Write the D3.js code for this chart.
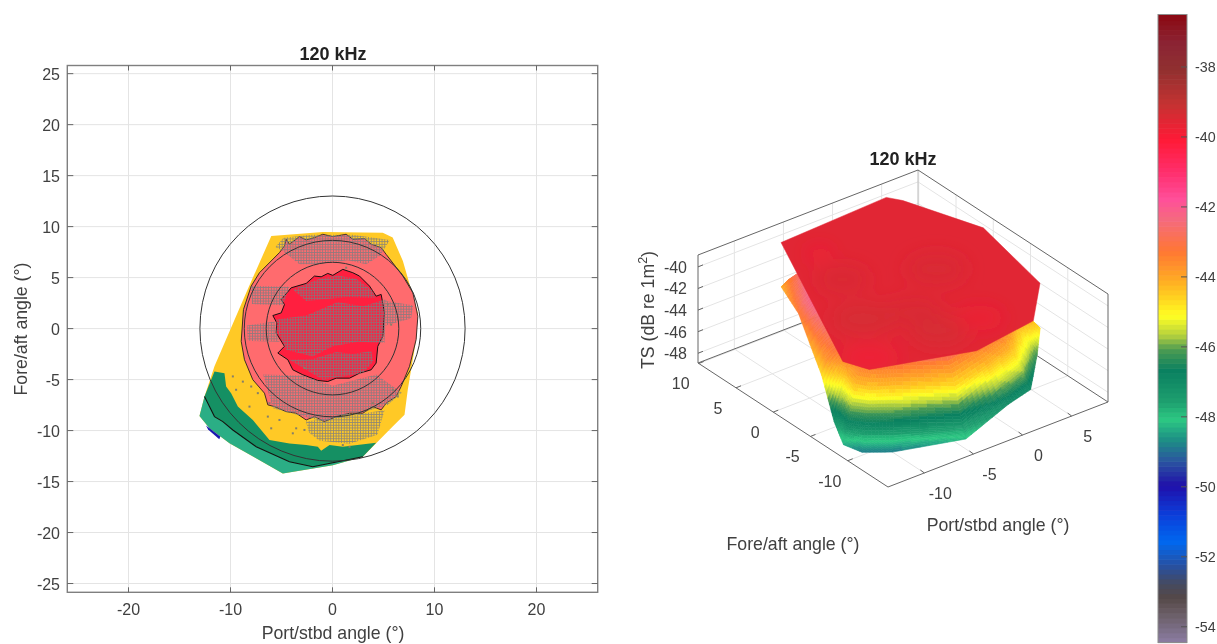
<!DOCTYPE html>
<html><head><meta charset="utf-8">
<style>html,body{margin:0;background:#fff}svg{display:block;filter:blur(0.3px)}text{font-family:"Liberation Sans",Arial,sans-serif;fill:#404040}</style>
<script src="https://cdn.jsdelivr.net/npm/d3@7/dist/d3.min.js"></script></head>
<body><svg id="c" width="1217" height="644"></svg>
<script>
// ---------- data (degrees / dB) ----------
const title = "120 kHz";
const xTicks2D = [-20,-10,0,10,20];
const yTicks2D = [-25,-20,-15,-10,-5,0,5,10,15,20,25];
const ringRadii = [13,8.65,6.5];
const footprintX = [-6,-0.95,4.93,5.9,6.9,8.37,8.2,7.38,7.06,5.9,2.97,0.03,-4.87,-10.1,-12.06,-13.04,-12.55,-11.57,-8.46];
const footprintY = [9.08,9.48,9.41,8.93,6.63,1.54,-1.08,-6,-8.46,-9.6,-12.57,-13.4,-14.2,-11.25,-9.78,-8.56,-6.66,-3.7,3.51];
const lightGreenX = [-13.04,-12.55,-11.57,-10.75,-9.77,-7.48,-4.22,-1.93,2.97,0.03,-4.87,-10.1,-12.06];
const lightGreenY = [-8.56,-6.66,-8.63,-9.12,-9.94,-11.58,-13.06,-13.55,-12.57,-13.4,-14.2,-11.25,-9.78];
const darkGreenX = [-11.57,-10.59,-10.43,-9.94,-9.28,-7.81,-6.18,-4.22,-2.58,-1.44,-1.11,-0.29,1.01,4.28,2.97,-1.93,-4.22,-7.48,-9.77,-10.75,-11.57,-12.55];
const darkGreenY = [-4.2,-4.37,-5.68,-6.33,-7.65,-8.96,-10.93,-11.26,-11.42,-11.58,-11.98,-11.42,-11.58,-11.19,-12.57,-13.55,-13.06,-11.58,-9.94,-9.12,-8.63,-6.66];
const contourLowX = [2.97,-1.93,-4.22,-7.48,-9.77,-10.75,-11.57,-12.55];
const contourLowY = [-12.57,-13.55,-13.06,-11.58,-9.94,-9.12,-8.63,-6.66];
const blueX = [-12.4,-11,-11.1,-12.2];
const blueY = [-9.5,-10.58,-10.85,-9.9];
const salmonX = [-4.54,-4.22,-3.24,-2.58,-1.77,-0.95,0.03,1.34,1.99,3.14,3.79,4.77,5.26,6.9,7.88,8.37,8.2,7.55,6.73,6.24,5.26,4.77,3.95,2.97,1.67,0.36,-0.78,-1.77,-2.58,-3.56,-4.54,-5.69,-6.34,-6.67,-7.81,-8.63,-8.95,-8.73,-7.97,-7.16,-5.2,-4.71];
const salmonY = [8.76,8.27,9.02,8.69,8.92,9.25,9.02,9.25,8.76,8.82,8.27,7.94,7.28,5.15,3.51,1.21,-1.08,-3.71,-5.68,-6.66,-7.32,-7.97,-7.65,-8.3,-8.3,-8.63,-9.12,-8.63,-8.96,-8.3,-8.14,-7.65,-7.48,-6.33,-5.02,-3.05,-1.25,1.87,4.17,5.48,7.45,8.1];
const redX = [-5.85,-5.03,-4.71,-5.03,-4.05,-2.58,-1.77,-1.11,-0.46,0.03,1.01,1.99,2.65,3.63,4.28,4.77,5.1,4.93,4.44,4.28,3.79,2.65,1.67,0.36,-0.46,-1.44,-2.91,-3.89,-4.38,-5.36,-4.71,-5.52,-5.46];
const redY = [1.28,1.54,2.36,2.85,4,4.43,5.15,5.08,5.41,5.22,5.81,5.48,5.15,4.17,3.18,3.35,1.54,-0.76,-1.74,-3.38,-4.04,-4.37,-4.86,-4.86,-5.19,-5.09,-4.53,-4.04,-3.05,-2.4,-1.74,-0.43,0.56];
const sampledRegionsX = [
 [-5.5,-2.5,0.5,3,5.3,5.1,2.5,0.03,-1.93,-4.54,-5.46],[-3.89,-1.27,0.5,2.32,3.95,4.2,1.5,-2.58],[-4.22,-2,0.36,2,3.79,4,2.97,-0.95],
 [-4.8,-2,2,5.6,5.2,4.61,3.3,1.5,-1.5,-3.24,-4.87,-5.6],[-8,-4.22,-4.87,-7.9],[-8.4,-5.69,-5.2,-8.3],[5.2,7.9,7.7,5.2],
 [-6.8,-2.91,0.03,2,4.28,6.8,5.4,3,-0.95,-5.85],[-2.6,5.1,4.4,1.67,-1.27,-2.3]];
const sampledRegionsY = [
 [0.9,1.3,2.6,2.2,2.9,-1.41,-1.3,-1.74,-2.73,-2.07,-0.1],[3.84,4.9,5.2,4.9,3.7,3,3.1,2.7],[-3.05,-3,-2.3,-2.5,-2.2,-3.2,-4.37,-5.02],
 [8.9,9.2,9.2,8.7,8,7.12,6.3,6.7,6.3,6.3,7.61,8],[4.2,4.1,2.3,2.4],[0.3,0.7,-1.3,-1.2],[2.7,2.3,1,0.3],
 [-4.5,-4.6,-5.6,-5.1,-4.5,-6.3,-7.5,-8.2,-9.1,-7.8],[-9.1,-8,-10.4,-11.3,-11,-10.2]];
const scatterX = [-9.45,-8.79,-9.77,-7.97,-7.32,-8.14,-6.34,-5.2,-3.89,-3.56,-2.75,-6.01,6.4,5.92,5.75,5.42,-2.75,1.34,-6.18,3.95,1.01,1.67];
const scatterY = [-6,-5.2,-4.69,-5.68,-6.33,-7.65,-8.63,-8.96,-10.27,-9.78,-9.94,-9.78,-6.66,-6,0.39,2.36,-3.87,5.97,-7.32,-7.32,-11.42,-11.58];

// 3D surface: TS on fractions of the way from footprint edge to beam centre
const surfaceFractions = [0,0.03,0.06,0.12,0.18,0.3,0.5,1];
const surfaceTS = [
 [-44.1,-43.7,-43.3,-42.7,-42.3,-41.8,-41,-40],
 [-44,-43.8,-43.6,-43.2,-42.8,-42,-41,-40],
 [-44,-43.8,-43.6,-43.2,-42.8,-42,-41,-40],
 [-44,-43.8,-43.6,-43.2,-42.8,-42,-41,-40],
 [-44,-43.8,-43.6,-43.2,-42.8,-42,-41,-40],
 [-44,-43.8,-43.6,-43.2,-42.8,-42,-41,-40],
 [-44,-43.8,-43.6,-43.2,-42.8,-42,-41,-40],
 [-44.5,-44.3,-44.1,-43.8,-43.4,-42.6,-41.2,-40],
 [-44.6,-44.4,-44.2,-43.8,-43.4,-42.6,-41.2,-40],
 [-46.1,-45.7,-45.2,-44.6,-43.9,-42.8,-41.2,-40],
 [-47,-46.5,-45.8,-44.8,-44,-43,-41.2,-40],
 [-47,-46.6,-46,-45,-44.2,-43.2,-41.3,-40],
 [-48.1,-47.7,-47.3,-46.2,-44.7,-43.3,-41.5,-40],
 [-48.8,-48,-46.8,-45.7,-44.2,-43,-41,-40],
 [-48.8,-48,-46.8,-45.7,-44.3,-43,-41,-40],
 [-48.3,-47.8,-46.8,-45.7,-44.2,-43,-41,-40],
 [-47.2,-46.8,-46.2,-45.2,-44,-43,-41.5,-40],
 [-44.6,-44.2,-43.8,-43.3,-43,-42.3,-41,-40],
 [-43.2,-42.8,-42.4,-42,-41.8,-41.5,-41,-40]];
const plateauX = [-6,5.15,5.9,8.37,6.58,2.46,-4.1,-12.8,-13.7];
const plateauY = [9.1,9.68,8.44,0.9,-9.07,-13.6,-14.63,-11.7,-9.34];
const plateauLevel = -40;
const plateauTS = -39.55;
const patchX = [-11.65,-4.62,-8.23,-4.55,1.33,-5.67,-4.35,-0.67];
const patchY = [-10.23,5.77,-4.82,-10.29,-2.09,1.24,-6.44,-10.56];
const patchTS = [-40.1,-40.1,-39.1,-39.1,-39.2,-39.2,-39.2,-39.9];
const patchR = [30,14,32,28,30,26,28,24];
const xTicks3D = [-10,-5,0,5];
const yTicks3D = [-10,-5,0,5,10];
const zTicks3D = [-48,-46,-44,-42,-40];
const cbTicks = [-38,-40,-42,-44,-46,-48,-50,-52,-54];
const cmapTS = [-54.45,-53.6,-53.1,-52.7,-52.2,-51.5,-50.7,-49.9,-49.2,-48.6,-48,-47.5,-46.6,-46,-45.6,-45.05,-44.5,-44,-43.2,-42.3,-41.7,-41,-40,-39,-38,-37.3,-36.5];
const cmapColors = ["#8E7FA8","#6B5F68","#554848","#454A60","#2850A0","#0068F0","#0C3CD8","#2010AA","#2A55A0","#1E8E85","#2BC882","#1E9F6F","#0A8060","#4E9C52","#B5D13E","#FFFF22","#FFD020","#FFA924","#FF7733","#F56A7E","#FF4F9A","#FF3070","#FF1A36","#C53232","#90302F","#8B2535","#8B0A14"];

// ---------- setup ----------
const svg = d3.select("#c");
const cmapLin = d3.scaleLinear().domain(cmapTS).range(cmapColors).clamp(true);
const STEP = 0.14;
const color = v => cmapLin(Math.round(v/STEP)*STEP);
const line = d3.line();
const BOX = "#7f7f7f", GRID = "#e4e4e4";
const TICK = 16, LABEL = 17.7, TITLE = 18;

// ---------- 2D panel ----------
const x2 = d3.scaleLinear().domain([-26,26]).range([67.3,597.7]);
const y2 = d3.scaleLinear().domain([-25.86,25.8]).range([592.3,65.5]);
const L=x2.range()[0],R=x2.range()[1],B=y2.range()[0],T=y2.range()[1];
const g2 = svg.append("g");
const defs2 = svg.append("defs");
const pat = defs2.append("pattern").attr("id","hatch").attr("patternUnits","userSpaceOnUse").attr("width",2.7).attr("height",2.7);
pat.append("path").attr("d","M0,1.35H2.7M1.35,0V2.7").attr("stroke","#7b7b80").attr("stroke-width",.85).attr("fill","none");
g2.selectAll(".gx").data(xTicks2D).join("line").attr("x1",d=>x2(d)).attr("x2",d=>x2(d)).attr("y1",T).attr("y2",B).attr("stroke",GRID);
g2.selectAll(".gy").data(yTicks2D).join("line").attr("y1",d=>y2(d)).attr("y2",d=>y2(d)).attr("x1",L).attr("x2",R).attr("stroke",GRID);
const poly2 = (X,Y) => line(X.map((v,i)=>[x2(v),y2(Y[i])]))+"Z";
g2.append("path").attr("d",poly2(footprintX,footprintY)).attr("fill","#FFC926");
g2.append("path").attr("d",poly2(lightGreenX,lightGreenY)).attr("fill","#2BAE85");
g2.append("path").attr("d",poly2(blueX,blueY)).attr("fill","#1a1ab0");
g2.append("path").attr("d",poly2(darkGreenX,darkGreenY)).attr("fill","#159063");
g2.append("path").attr("d",line(contourLowX.map((v,i)=>[x2(v),y2(contourLowY[i])]))).attr("fill","none").attr("stroke","#111").attr("stroke-width",1.1);
g2.append("path").attr("d",poly2(salmonX,salmonY)).attr("fill","#FF6B6E").attr("stroke","#2a2020").attr("stroke-width",.9);
g2.append("path").attr("d",poly2(redX,redY)).attr("fill","#FF1F3F").attr("stroke","#1a1010").attr("stroke-width",1);
sampledRegionsX.forEach((X,i)=>g2.append("path").attr("d",poly2(X,sampledRegionsY[i])).attr("fill","url(#hatch)").attr("opacity",.85));
g2.selectAll(".sc").data(scatterX).join("rect").attr("x",d=>x2(d)-1).attr("y",(d,i)=>y2(scatterY[i])-1).attr("width",2).attr("height",2).attr("fill","#857f6a");
g2.selectAll(".ring").data(ringRadii).join("circle").attr("cx",x2(0)).attr("cy",y2(0)).attr("r",d=>x2(d)-x2(0)).attr("fill","none").attr("stroke","#333").attr("stroke-width",1);
g2.append("rect").attr("x",L).attr("y",T).attr("width",R-L).attr("height",B-T).attr("fill","none").attr("stroke",BOX).attr("stroke-width",1.4);
g2.selectAll(".tx").data(xTicks2D).join("path").attr("d",d=>`M${x2(d)},${B}v-5M${x2(d)},${T}v5`).attr("stroke","#666");
g2.selectAll(".ty").data(yTicks2D).join("path").attr("d",d=>`M${L},${y2(d)}h6M${R},${y2(d)}h-6`).attr("stroke","#666");
g2.selectAll(".lx").data(xTicks2D).join("text").attr("x",d=>x2(d)).attr("y",615).attr("text-anchor","middle").attr("font-size",TICK).text(d=>d);
g2.selectAll(".ly").data(yTicks2D).join("text").attr("x",60).attr("y",d=>y2(d)+6).attr("text-anchor","end").attr("font-size",TICK).text(d=>d);
g2.append("text").attr("x",333).attr("y",60).attr("text-anchor","middle").attr("font-size",TITLE).attr("font-weight","bold").style("fill","#222").text(title);
g2.append("text").attr("x",333).attr("y",639).attr("text-anchor","middle").attr("font-size",LABEL).text("Port/stbd angle (°)");
g2.append("text").attr("transform","translate(27,329) rotate(-90)").attr("text-anchor","middle").attr("font-size",LABEL).text("Fore/aft angle (°)");

// ---------- 3D panel ----------
const xDom=[-13.7,8.7], yDom=[-15.4,10.1], zDom=[-48.9,-38.9];
const xPx = d3.scaleLinear().domain(xDom).range([0,220]);
const xPy = d3.scaleLinear().domain(xDom).range([0,-85]);
const yPx = d3.scaleLinear().domain(yDom).range([0,-190]);
const yPy = d3.scaleLinear().domain(yDom).range([0,-124]);
const zP = d3.scaleLinear().domain(zDom).range([0,-108]);
const proj = (x,y,z) => [888+xPx(x)+yPx(y), 487+xPy(x)+yPy(y)+zP(z)];
const g3 = svg.append("g");
const seg = (a,b,c,w)=>g3.append("path").attr("d",line([proj(...a),proj(...b)])).attr("stroke",c).attr("stroke-width",w||1).attr("fill","none");
const [x0,x1]=xDom,[y0,y1]=yDom,[z0,z1]=zDom;
xTicks3D.forEach(t=>{seg([t,y0,z0],[t,y1,z0],GRID);seg([t,y1,z0],[t,y1,z1],GRID);});
yTicks3D.forEach(t=>{seg([x0,t,z0],[x1,t,z0],GRID);seg([x1,t,z0],[x1,t,z1],GRID);});
zTicks3D.forEach(t=>{seg([x0,y1,t],[x1,y1,t],GRID);seg([x1,y1,t],[x1,y0,t],GRID);});
seg([x0,y1,z0],[x1,y1,z0],"#666");seg([x1,y1,z0],[x1,y0,z0],"#666");seg([x1,y1,z0],[x1,y1,z1],"#bdbdbd");
seg([x0,y1,z0],[x0,y0,z0],"#666");seg([x0,y0,z0],[x1,y0,z0],"#666");
seg([x0,y1,z0],[x0,y1,z1],"#666");seg([x0,y1,z1],[x1,y1,z1],"#666");seg([x1,y1,z1],[x1,y0,z1],"#666");seg([x1,y0,z1],[x1,y0,z0],"#666");

// surface mesh: spokes × fractions, shaded through the colormap
const N = footprintX.length, cells=[];
const NU=8,NV=6;
const meshPt=(i,f)=>[footprintX[i]*(1-f),footprintY[i]*(1-f)];
for(let i=0;i<N;i++){const j=(i+1)%N;
 for(let r=0;r<surfaceFractions.length-1;r++){
  const f0=surfaceFractions[r],f1=surfaceFractions[r+1];
  const nv=r<5?NV:3;
  for(let u=0;u<NU;u++)for(let v=0;v<nv;v++){
    const P=(uu,vv)=>{const s=uu/NU,w=vv/nv,f=f0+(f1-f0)*w;
      const a=meshPt(i,f),b=meshPt(j,f);
      const zi=surfaceTS[i][r]*(1-w)+surfaceTS[i][r+1]*w, zj=surfaceTS[j][r]*(1-w)+surfaceTS[j][r+1]*w;
      const z=zi*(1-s)+zj*s; return {p:proj(a[0]*(1-s)+b[0]*s,a[1]*(1-s)+b[1]*s,z),z};};
    const A=P(u,v),B=P(u+1,v),C=P(u+1,v+1),D=P(u,v+1);
    cells.push({d:line([A.p,B.p,C.p,D.p])+"Z",z:(A.z+B.z+C.z+D.z)/4,depth:(A.p[1]+C.p[1])/2-zP((A.z+C.z)/2)});
  }}}
cells.sort((a,b)=>a.depth-b.depth);
g3.append("g").selectAll("path").data(cells).join("path").attr("d",d=>d.d).attr("fill",d=>color(d.z)).attr("stroke",d=>color(d.z)).attr("stroke-width",.6);

// red top sheet
const plateauPts = plateauX.map((v,i)=>proj(v,plateauY[i],plateauLevel));
const defs3 = svg.append("defs");
defs3.append("clipPath").attr("id","plateauClip").append("path").attr("d",line(plateauPts)+"Z");
defs3.append("filter").attr("id","soft").attr("x","-60%").attr("y","-60%").attr("width","220%").attr("height","220%").append("feGaussianBlur").attr("stdDeviation",9);
g3.append("path").attr("d",line(plateauPts)+"Z").attr("fill",color(plateauTS)).attr("stroke",color(plateauTS)).attr("stroke-width",.5);
g3.append("g").attr("clip-path","url(#plateauClip)").append("g").attr("filter","url(#soft)")
  .selectAll("ellipse").data(patchX).join("ellipse")
  .attr("cx",(d,i)=>proj(d,patchY[i],plateauLevel)[0]).attr("cy",(d,i)=>proj(d,patchY[i],plateauLevel)[1])
  .attr("rx",(d,i)=>patchR[i]).attr("ry",(d,i)=>patchR[i]*.5).attr("fill",(d,i)=>cmapLin(patchTS[i])).attr("opacity",.45);

// 3D ticks + labels
const tk=(a,dx,dy)=>{const p=proj(...a);g3.append("path").attr("d",`M${p[0]},${p[1]}l${dx},${dy}`).attr("stroke","#666");};
xTicks3D.forEach(t=>tk([t,y0,z0],-4,-3));
yTicks3D.forEach(t=>tk([x0,t,z0],5,-2));
zTicks3D.forEach(t=>tk([x0,y1,t],5,-2));
const lab=(p,t,anc)=>g3.append("text").attr("x",p[0]).attr("y",p[1]).attr("text-anchor",anc||"middle").attr("font-size",TICK).text(t);
xTicks3D.forEach(t=>{const p=proj(t,y0,z0);lab([p[0]+16,p[1]+26],t);});
yTicks3D.forEach(t=>{const p=proj(x0,t,z0);lab([p[0]-18,p[1]+26],t);});
zTicks3D.forEach(t=>{const p=proj(x0,y1,t);lab([p[0]-11,p[1]+6],t,"end");});
g3.append("text").attr("x",903).attr("y",165).attr("text-anchor","middle").attr("font-size",TITLE).attr("font-weight","bold").style("fill","#222").text(title);
g3.append("text").attr("x",998).attr("y",531).attr("text-anchor","middle").attr("font-size",LABEL).text("Port/stbd angle (°)");
g3.append("text").attr("x",793).attr("y",550).attr("text-anchor","middle").attr("font-size",LABEL).text("Fore/aft angle (°)");
const ts=g3.append("text").attr("transform","translate(654,310) rotate(-90)").attr("text-anchor","middle").attr("font-size",LABEL);
ts.append("tspan").text("TS (dB re 1m");ts.append("tspan").attr("dy",-7).attr("font-size",12.5).text("2");ts.append("tspan").attr("dy",7).text(")");

// ---------- colourbar ----------
const cb = d3.scaleLinear().domain([-54.45,-36.5]).range([642.5,14.5]).clamp(true);
const g4 = svg.append("g");
const cbLevels = d3.range(-54.45,-36.5,STEP);
g4.selectAll("rect.s").data(cbLevels).join("rect").attr("x",1158).attr("width",29)
  .attr("y",d=>cb(d+STEP)).attr("height",d=>cb(d)-cb(d+STEP)+.6).attr("fill",d=>color(d+STEP/2));
g4.append("rect").attr("x",1158).attr("y",14.5).attr("width",29).attr("height",628).attr("fill","none").attr("stroke","#8c8c8c");
g4.selectAll("path.t").data(cbTicks).join("path").attr("d",d=>`M1187,${cb(d)}h-6`).attr("stroke","#555");
g4.selectAll("text.t").data(cbTicks).join("text").attr("x",1195).attr("y",d=>cb(d)+5).attr("font-size",14.3).text(d=>d);
</script></body></html>
